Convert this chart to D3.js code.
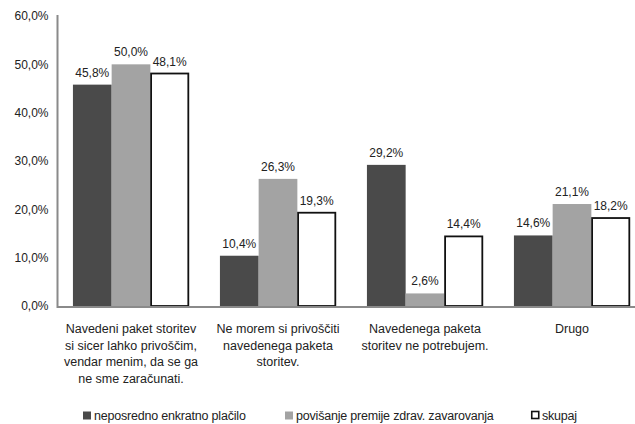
<!DOCTYPE html>
<html>
<head>
<meta charset="utf-8">
<script src="https://cdn.jsdelivr.net/npm/d3@7"></script>
<style>
  html, body { margin: 0; padding: 0; background: #fff; }
  svg { display: block; font-family: "Liberation Sans", Arial, sans-serif; }
</style>
</head>
<body>
<svg id="chart" width="635" height="424"></svg>
<script>
// Reasons for refusing the service package, by payment option
const categories = [
  "Navedeni paket storitev\nsi sicer lahko privoščim,\nvendar menim, da se ga\nne sme zaračunati.",
  "Ne morem si privoščiti\nnavedenega paketa\nstoritev.",
  "Navedenega paketa\nstoritev ne potrebujem.",
  "Drugo"
];
const seriesNames = [
  "neposredno enkratno plačilo",
  "povišanje premije zdrav. zavarovanja",
  "skupaj"
];
const directPayment = [45.8, 10.4, 29.2, 14.6];
const premiumIncrease = [50.0, 26.3, 2.6, 21.1];
const total = [48.1, 19.3, 14.4, 18.2];
const yTicks = [0, 10, 20, 30, 40, 50, 60];

const series = [directPayment, premiumIncrease, total];
const fills = ["#4a4a4a", "#a3a3a3", "#ffffff"];
const strokes = ["none", "none", "#111"];

const svg = d3.select("#chart");
svg.append("rect").attr("width", 635).attr("height", 424).attr("fill", "#fff");

const x0 = d3.scaleBand().domain(d3.range(categories.length))
  .range([57.5, 645.5]).paddingInner(0.21).paddingOuter(0.105);
const x1 = d3.scaleBand().domain(d3.range(series.length))
  .range([0, x0.bandwidth()]);
const y = d3.scaleLinear().domain([0, 60]).range([306, 16]);

const fmt = v => v.toFixed(1).replace(".", ",") + "%";

// y axis
const yAxis = svg.append("g").attr("transform", "translate(57.5,0)")
  .call(d3.axisLeft(y).tickValues(yTicks).tickSize(0).tickPadding(9).tickFormat(fmt));
yAxis.select(".domain").attr("stroke", "#8a8a8a").attr("stroke-width", 2)
  .attr("d", `M0,${y(60) - 1}V${y(0)}`);
yAxis.selectAll("text").attr("font-size", 12).attr("fill", "#222")
  .attr("font-family", "'Liberation Sans', Arial, sans-serif");

// bars
const groups = svg.append("g").selectAll("g").data(categories).join("g")
  .attr("transform", (d, i) => `translate(${x0(i)},0)`);

series.forEach((vals, s) => {
  groups.append("rect")
    .attr("x", (d, i) => x1(s) + (s === 2 ? 0.75 : 0))
    .attr("width", x1.bandwidth() - (s === 2 ? 1.5 : 0))
    .attr("y", (d, i) => y(vals[i]))
    .attr("height", (d, i) => y(0) - y(vals[i]))
    .attr("fill", fills[s])
    .attr("stroke", strokes[s])
    .attr("stroke-width", s === 2 ? 1.8 : 0);
  groups.append("text")
    .attr("x", x1(s) + x1.bandwidth() / 2)
    .attr("y", (d, i) => y(vals[i]) - 8)
    .attr("text-anchor", "middle")
    .attr("font-size", 12).attr("fill", "#222")
    .text((d, i) => fmt(vals[i]));
});

// x axis baseline
svg.append("line").attr("x1", 56.5).attr("x2", 645).attr("y1", y(0) + 1).attr("y2", y(0) + 1)
  .attr("stroke", "#8a8a8a").attr("stroke-width", 2);

// category labels
categories.forEach((c, i) => {
  const t = svg.append("text")
    .attr("text-anchor", "middle").attr("font-size", 12.5).attr("fill", "#222");
  c.split("\n").forEach((line, k) => {
    t.append("tspan").attr("x", x0(i) + x0.bandwidth() / 2)
      .attr("y", 333 + k * 16.5).text(line);
  });
});

// legend
const legend = svg.append("g").attr("transform", "translate(83,420)");
const legendX = [0, 202, 448];
seriesNames.forEach((n, s) => {
  const g = legend.append("g").attr("transform", `translate(${legendX[s]},0)`);
  g.append("rect").attr("x", s === 2 ? 0.75 : 0).attr("y", -8.5)
    .attr("width", s === 2 ? 7 : 8).attr("height", s === 2 ? 7 : 8)
    .attr("fill", fills[s]).attr("stroke", strokes[s]).attr("stroke-width", s === 2 ? 1.6 : 0);
  g.append("text").attr("x", 11).attr("y", 0)
    .attr("font-size", 12.5).attr("fill", "#222").attr("letter-spacing", -0.2)
    .text(n);
});
</script>
</body>
</html>
